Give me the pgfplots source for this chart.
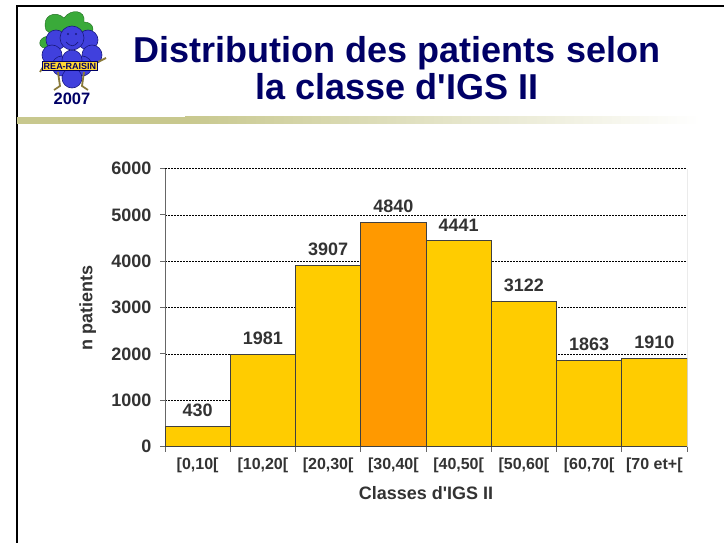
\documentclass[border=0pt]{standalone}
\usepackage{pgfplots}
\pgfplotsset{compat=1.18}
\usepackage{fontspec}
\setmainfont{Liberation Sans}
\definecolor{barY}{HTML}{FFCC00}
\definecolor{barO}{HTML}{FF9900}
\definecolor{navy}{HTML}{000066}
\definecolor{txt}{HTML}{333333}
\definecolor{olivebar}{HTML}{C8C88E}
\definecolor{grape}{HTML}{4040DD}
\definecolor{grapedark}{HTML}{1A1A80}
\definecolor{leaf}{HTML}{3AAA3A}
\definecolor{leafdark}{HTML}{1F6B1F}
\definecolor{brownish}{HTML}{8A7A3A}
\definecolor{axgray}{HTML}{666666}
\begin{document}
\begin{tikzpicture}
\path[use as bounding box, fill=white] (0,0) rectangle (724pt,-543pt);
% frame
\draw[line width=2pt] (17pt,-543pt) -- (17pt,-6pt) -- (724pt,-6pt);
% separator bar
\fill[olivebar] (17pt,-117pt) rectangle (185pt,-124pt);
\shade[left color=olivebar, right color=white] (185pt,-117pt) rectangle (700pt,-124pt);
% title
\node[align=center, text=navy, font=\fontsize{36}{38}\selectfont\bfseries, inner sep=0pt, anchor=base] at (397pt,-100pt)
  {Distribution des patients selon\\la classe d\textquotesingle IGS II};
% logo
\begin{scope}[xshift=-4pt]
\fill[leaf, draw=leafdark] (50pt,-30pt) .. controls (45pt,-15pt) and (60pt,-10pt) .. (68pt,-18pt)
  .. controls (75pt,-8pt) and (90pt,-10pt) .. (88pt,-22pt) .. controls (98pt,-22pt) and (100pt,-32pt) .. (92pt,-36pt)
  -- (60pt,-38pt) -- cycle;
\fill[leaf, draw=leafdark] (52pt,-36pt) .. controls (40pt,-38pt) and (42pt,-50pt) .. (52pt,-48pt) -- cycle;
\foreach \cx/\cy in {60/-40,92/-40,56/-55,96/-55,66/-66,86/-66,76/-60,76/-78}{
  \fill[grape, draw=grapedark, line width=0.6pt] (\cx pt,\cy pt) circle (10pt);}
\fill[grape, draw=grapedark, line width=0.6pt] (76pt,-38pt) circle (12pt);
\draw[grapedark, line width=0.7pt] (70pt,-42pt) .. controls (74pt,-47pt) and (79pt,-47pt) .. (82pt,-42pt);
\fill[grapedark] (72pt,-34pt) circle (1.2pt) (80pt,-34pt) circle (1.2pt);
\draw[brownish, line width=1.8pt] (62pt,-72pt) -- (64pt,-86pt) -- (58pt,-90pt);
\draw[brownish, line width=1.8pt] (88pt,-72pt) -- (86pt,-86pt) -- (92pt,-90pt);
\draw[brownish, line width=1.8pt] (50pt,-62pt) -- (44pt,-72pt);
\draw[brownish, line width=1.8pt] (102pt,-62pt) -- (110pt,-58pt);
\node[fill=barY!80!white, draw=navy, line width=0.8pt, inner sep=1.5pt, text=navy,
  font=\fontsize{9}{9}\selectfont\bfseries] at (74pt,-66pt) {REA-RAISIN};
\end{scope}
\node[text=navy, font=\fontsize{16.5}{16.5}\selectfont\bfseries, anchor=base] at (72pt,-105pt) {2007};
\begin{axis}[
  at={(165pt,-446.5pt)}, anchor=south west, scale only axis,
  width=522pt, height=278pt,
  xmin=0, xmax=8, ymin=0, ymax=6000,
  axis x line=bottom, axis y line=left,
  axis line style={-, draw=axgray, line width=0.9pt},
  xtick={0,1,...,8},
  x tick label as interval,
  xticklabels={{[0,10[},{[10,20[},{[20,30[},{[30,40[},{[40,50[},{[50,60[},{[60,70[},{[70 et+[}},
  ytick={0,1000,...,6000},
  scaled y ticks=false,
  /pgf/number format/1000 sep={},
  /pgf/number format/assume math mode=true,
  tick align=outside, major tick length=5pt,
  tick style={draw=axgray, line width=0.9pt},
  ymajorgrids,
  major grid style={black, line width=0.5pt, dash pattern=on 1.5pt off 1.5pt},
  yticklabel style={font=\fontsize{18}{18}\selectfont\bfseries, text=txt, xshift=-5pt},
  xticklabel style={font=\fontsize{16}{16}\selectfont\bfseries, text=txt, yshift=-3pt},
  ylabel={n patients}, xlabel={Classes d\textquotesingle IGS II},
  ylabel style={at={(axis description cs:-0.148,0.5)}, anchor=center, font=\fontsize{18}{18}\selectfont\bfseries, text=txt},
  xlabel style={at={(axis description cs:0.5,-0.169)}, anchor=center, font=\fontsize{18}{18}\selectfont\bfseries, text=txt},
  ybar, bar width=1,
  nodes near coords,
  nodes near coords style={font=\fontsize{18}{18}\selectfont\bfseries, text=txt, anchor=south, yshift=6pt},
]
\addplot[bar shift=0pt, fill=barY, draw=black!75, line width=0.7pt]
  coordinates {(0.5,430) (1.5,1981) (2.5,3907) (4.5,4441) (5.5,3122) (6.5,1863) (7.5,1910)};
\addplot[bar shift=0pt, fill=barO, draw=black!75, line width=0.7pt]
  coordinates {(3.5,4840)};
\draw[axgray, line width=0.9pt] (rel axis cs:1,0) -- (rel axis cs:1,1);
\end{axis}
\end{tikzpicture}
\end{document}
